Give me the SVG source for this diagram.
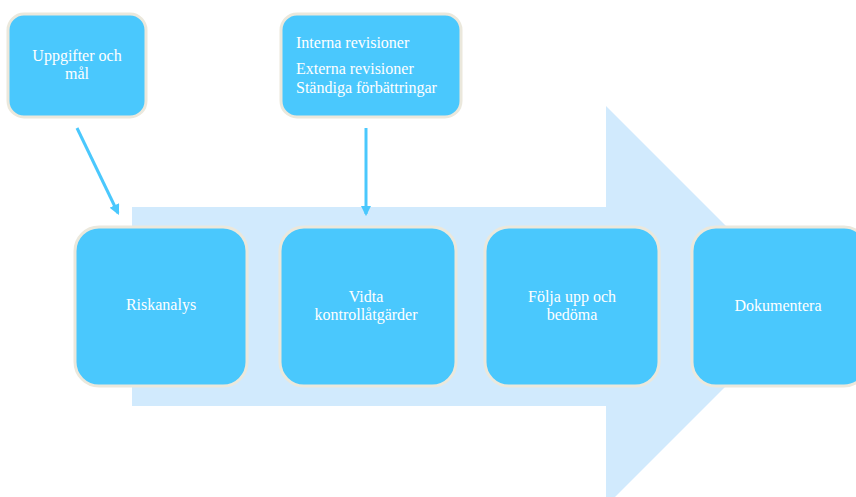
<svg xmlns="http://www.w3.org/2000/svg" width="856" height="497" viewBox="0 0 856 497">
<style>
.box{fill:#4ac8fd;stroke:#ebe8dc;stroke-width:3}
.t{font-family:"Liberation Serif",serif;font-size:16px;fill:#ffffff}
.c{text-anchor:middle}
.con{stroke:#4ac8fd;stroke-width:3;fill:none}
</style>
<defs>
<marker id="ah" viewBox="0 0 10 10" refX="8" refY="5" markerWidth="3.5" markerHeight="3.5" orient="auto" markerUnits="strokeWidth">
<path d="M0,0 L10,5 L0,10 z" fill="#4ac8fd"/>
</marker>
</defs>
<rect width="856" height="497" fill="#ffffff"/>
<polygon id="bigarrow" points="132,207 606,207 606,106 806,306 606,506 606,406 132,406" fill="#d1eafd"/>
<g id="connectors">
<line class="con" x1="77" y1="128" x2="118" y2="213" marker-end="url(#ah)"/>
<line class="con" x1="366" y1="128" x2="366" y2="214" marker-end="url(#ah)"/>
</g>
<g id="n-uppgifter">
<rect class="box" x="8" y="14" width="138" height="103" rx="16"/>
<text class="t c" x="77" y="61">Uppgifter och</text>
<text class="t c" x="77" y="79">mål</text>
</g>
<g id="n-revisioner">
<rect class="box" x="281" y="14" width="180" height="103" rx="16"/>
<text class="t" x="296" y="48">Interna revisioner</text>
<text class="t" x="296" y="74">Externa revisioner</text>
<text class="t" x="296" y="93">Ständiga förbättringar</text>
</g>
<g id="n-riskanalys">
<rect class="box" x="75" y="227" width="172" height="159" rx="24"/>
<text class="t c" x="161" y="310">Riskanalys</text>
</g>
<g id="n-vidta">
<rect class="box" x="280" y="227" width="176" height="159" rx="24"/>
<text class="t c" x="366" y="302">Vidta</text>
<text class="t c" x="366" y="320">kontrollåtgärder</text>
</g>
<g id="n-folja">
<rect class="box" x="485" y="227" width="174" height="159" rx="24"/>
<text class="t c" x="572" y="302">Följa upp och</text>
<text class="t c" x="572" y="320">bedöma</text>
</g>
<g id="n-dokumentera">
<rect class="box" x="692" y="227" width="176" height="159" rx="24"/>
<text class="t c" x="778" y="311">Dokumentera</text>
</g>
</svg>
